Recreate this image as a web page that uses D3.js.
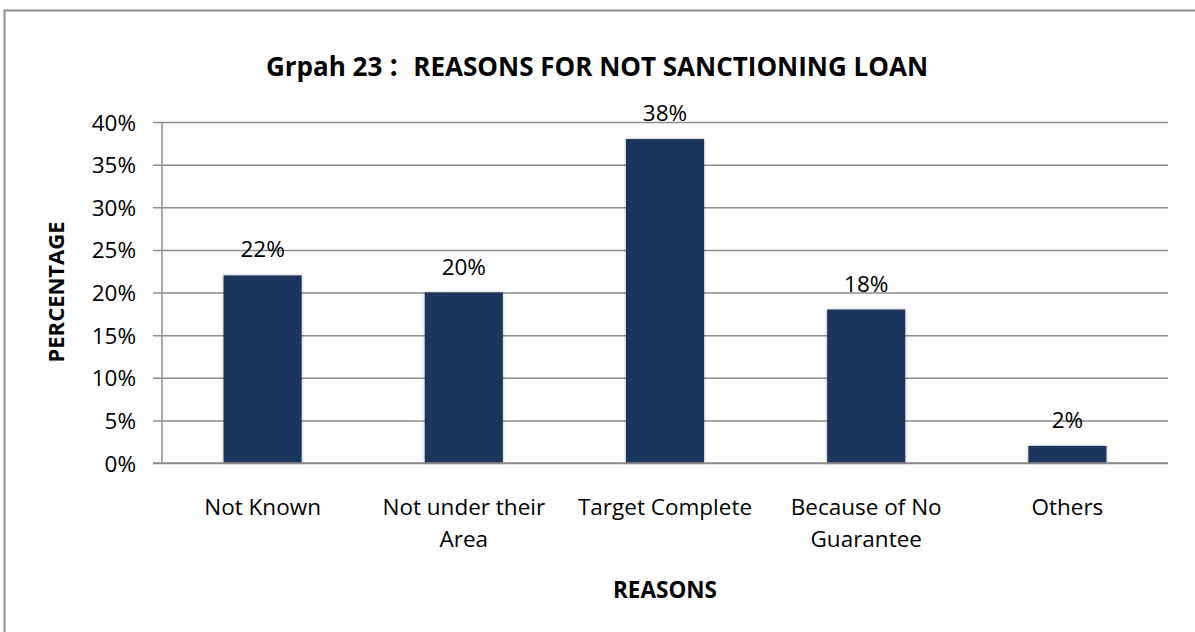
<!DOCTYPE html>
<html>
<head>
<meta charset="utf-8">
<script src="https://cdn.jsdelivr.net/npm/d3@7"></script>
<style>
  html, body { margin: 0; padding: 0; background: #fff; }
  svg { display: block; }
</style>
</head>
<body>
<script>
// Reasons for not sanctioning a loan, share of respondents
const categories = [["Not Known"], ["Not under their", "Area"], ["Target Complete"], ["Because of No", "Guarantee"], ["Others"]];
const values = [0.22, 0.20, 0.38, 0.18, 0.02];
const yTicks = [0, 0.05, 0.10, 0.15, 0.20, 0.25, 0.30, 0.35, 0.40];

const W = 1195, H = 632;
const font = "'Open Sans', 'Liberation Sans', sans-serif";
const svg = d3.select("body").append("svg").attr("width", W).attr("height", H);

const defs = svg.append("defs");
const f = defs.append("filter").attr("id", "barShadow")
  .attr("x", "-20%").attr("y", "-10%").attr("width", "140%").attr("height", "120%");
f.append("feGaussianBlur").attr("in", "SourceAlpha").attr("stdDeviation", 1.6).attr("result", "b");
f.append("feFlood").attr("flood-color", "#000").attr("flood-opacity", 0.35);
f.append("feComposite").attr("in2", "b").attr("operator", "in").attr("result", "s");
const fm = f.append("feMerge");
fm.append("feMergeNode").attr("in", "s");
fm.append("feMergeNode").attr("in", "SourceGraphic");

// chart frame
svg.append("rect").attr("x", 4.5).attr("y", 10.5).attr("width", W + 10).attr("height", H + 10)
  .attr("fill", "#fff").attr("stroke", "#8c8c8c").attr("stroke-width", 2);

const plot = { left: 162, right: 1168, top: 122, bottom: 463 };
const x = d3.scaleBand().domain(d3.range(categories.length))
  .range([plot.left, plot.right]).paddingInner(0.612).paddingOuter(0.306);
const y = d3.scaleLinear().domain([0, 0.40]).range([plot.bottom, plot.top]);

// gridlines and y ticks
const yAxis = svg.append("g").attr("transform", `translate(${plot.left},0)`)
  .call(d3.axisLeft(y).tickValues(yTicks).tickFormat(d3.format(".0%"))
    .tickSize(-(plot.right - plot.left)).tickPadding(26));
yAxis.select(".domain").remove();
yAxis.selectAll(".tick line").attr("stroke", "#8c8c8c").attr("stroke-width", 1.5).attr("x1", -9);
yAxis.selectAll(".tick text").attr("font-family", font).attr("font-size", 22.5).attr("fill", "#000")
  .attr("dy", "0.36em");

// vertical axis line
svg.append("line").attr("x1", plot.left).attr("x2", plot.left)
  .attr("y1", plot.top).attr("y2", plot.bottom)
  .attr("stroke", "#8c8c8c").attr("stroke-width", 1.5);

// bars
svg.append("g").selectAll("rect").data(values).join("rect")
  .attr("x", (d, i) => x(i)).attr("width", x.bandwidth())
  .attr("y", d => y(d)).attr("height", d => y(0) - y(d))
  .attr("fill", "#1b365d").attr("filter", "url(#barShadow)");

// baseline over the bars
svg.append("line").attr("x1", plot.left - 9).attr("x2", plot.right)
  .attr("y1", plot.bottom).attr("y2", plot.bottom)
  .attr("stroke", "#8c8c8c").attr("stroke-width", 1.5);

// value labels
svg.append("g").selectAll("text").data(values).join("text")
  .attr("x", (d, i) => x(i) + x.bandwidth() / 2).attr("y", d => y(d) - 18)
  .attr("text-anchor", "middle").attr("font-family", font).attr("font-size", 22.5).attr("fill", "#000")
  .text(d3.format(".0%"));

// category labels
const cat = svg.append("g").selectAll("text").data(categories).join("text")
  .attr("x", (d, i) => x(i) + x.bandwidth() / 2).attr("y", 515)
  .attr("text-anchor", "middle").attr("font-family", font).attr("font-size", 22.5).attr("fill", "#000");
cat.selectAll("tspan").data(d => d).join("tspan")
  .attr("x", function () { return this.parentNode.getAttribute("x"); })
  .attr("dy", (d, j) => j === 0 ? 0 : 32)
  .text(d => d);

// axis titles
svg.append("text").attr("x", 665).attr("y", 598).attr("text-anchor", "middle")
  .attr("font-family", font).attr("font-size", 22.5).attr("font-weight", "bold").text("REASONS");
svg.append("text").attr("transform", "translate(64,292) rotate(-90)").attr("text-anchor", "middle")
  .attr("font-family", font).attr("font-size", 22).attr("font-weight", "bold").text("PERCENTAGE");

// chart title
const title = svg.append("text").attr("x", 597).attr("y", 76).attr("text-anchor", "middle")
  .attr("font-family", font).attr("font-size", 26).attr("font-weight", "bold");
title.append("tspan").text("Grpah 23");
title.append("tspan").attr("dx", 5)
  .attr("font-family", "'Noto Sans CJK SC', sans-serif").text("\uFF1A");
title.append("tspan").text("REASONS FOR NOT SANCTIONING LOAN");
</script>
</body>
</html>
